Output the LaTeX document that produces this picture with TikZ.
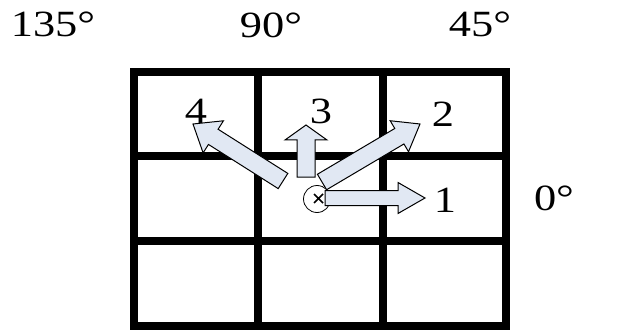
\documentclass[tikz,border=0pt]{standalone}
\usepackage{fontspec}
\setmainfont[FakeStretch=1.2]{Liberation Serif}
\usetikzlibrary{calc}
\definecolor{arrowfill}{RGB}{225,232,243}
\tikzset{
  gridline/.style={line width=8pt, line cap=rect},
  blockarrow/.style={draw, fill=arrowfill, line width=1pt, line join=miter},
  anglelabel/.style={anchor=base, inner sep=0pt, font=\fontsize{37}{40}\selectfont},
}
% block arrow: tail, tip, half shaft, half head, head length
\newcommand\dirarrow[5]{%
  \coordinate (hb) at ($(#2)!#5!(#1)$);
  \draw[blockarrow] ($(#1)!#3!90:(#2)$) -- ($(hb)!#3!90:(#2)$) -- ($(hb)!#4!90:(#2)$) -- (#2)
    -- ($(hb)!#4!-90:(#2)$) -- ($(hb)!#3!-90:(#2)$) -- ($(#1)!#3!-90:(#2)$) -- cycle;
}
\begin{document}
\begin{tikzpicture}[x=1pt, y=-1pt]
    \useasboundingbox (0,0) rectangle (617,331);

    % 3x3 grid
    \foreach \gx in {134,258,383,506}
        \draw[gridline] (\gx,72) -- (\gx,326);
    \foreach \gy in {72,156,241,326}
        \draw[gridline] (134,\gy) -- (506,\gy);

    % direction labels
    \node[anglelabel] (lab135) at (53,37) {135°};
    \node[anglelabel] (lab90) at (271,38) {90°};
    \node[anglelabel] (lab45) at (480,37) {45°};
    \node[anglelabel] (lab0) at (554,210) {0°};

    \node[anglelabel] (num4) at (196,124) {4};
    \node[anglelabel] (num3) at (321,124) {3};
    \node[anglelabel] (num2) at (443,127) {2};
    \node[anglelabel] (num1) at (445,212) {1};

    % origin
    \node[draw, circle, minimum size=27pt, inner sep=0pt, line width=0.8pt] (origin) at (317,199) {};
    \draw[line width=1.6pt] (314,194) -- (323,203) (314,203) -- (323,194);

    \coordinate (tail4) at (283,181);
    \coordinate (tip4) at (193,124);
    \coordinate (tail3) at (306,177);
    \coordinate (tip3) at (306,125);
    \coordinate (tail2) at (322,182);
    \coordinate (tip2) at (420,124);
    \coordinate (tail1) at (325,198);
    \coordinate (tip1) at (425,198);

    \dirarrow{tail4}{tip4}{9pt}{19pt}{24pt}
    \dirarrow{tail3}{tip3}{9pt}{21pt}{15pt}
    \dirarrow{tail2}{tip2}{9pt}{18pt}{24pt}
    \dirarrow{tail1}{tip1}{7.5pt}{15.5pt}{27pt}
\end{tikzpicture}
\end{document}
